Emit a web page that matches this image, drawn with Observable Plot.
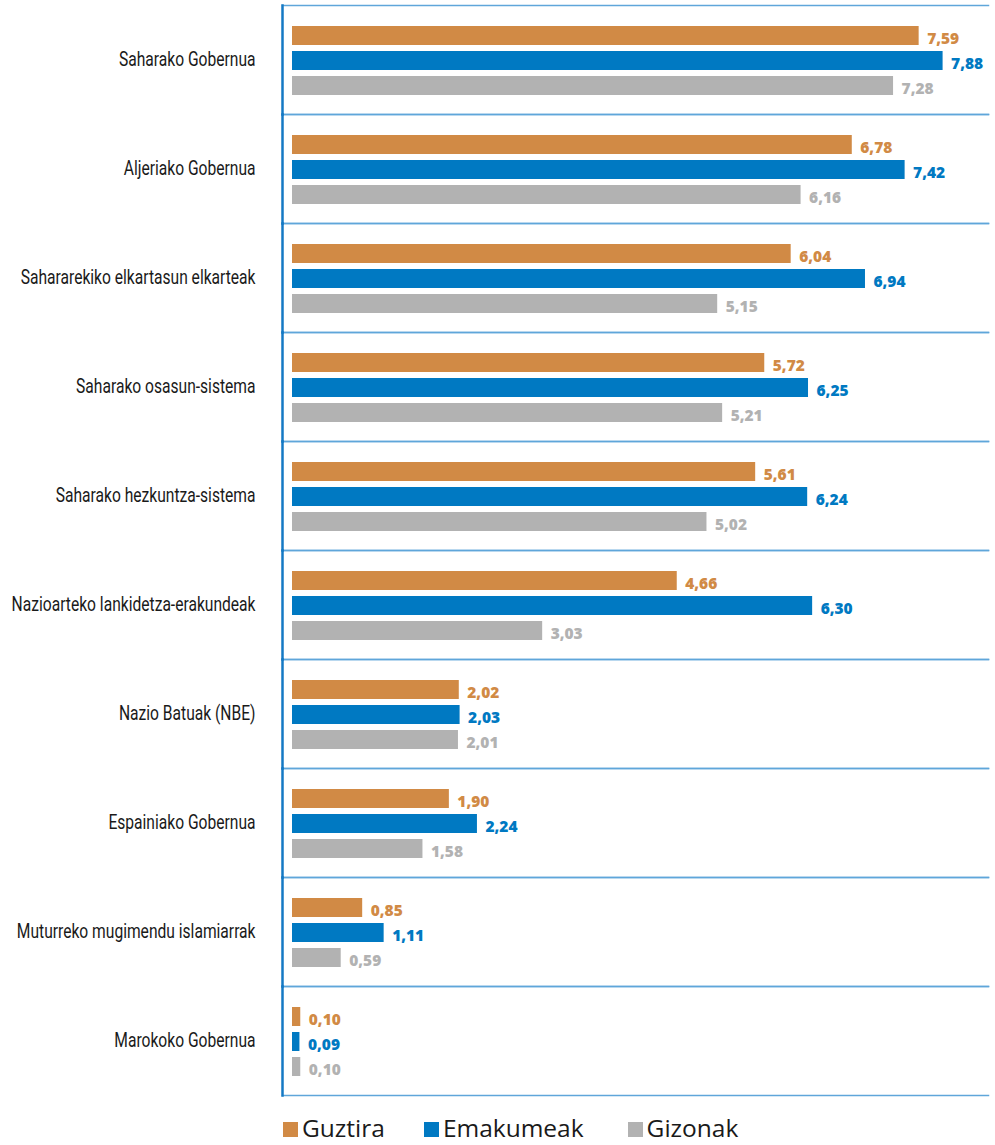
<!DOCTYPE html>
<html>
<head>
<meta charset="utf-8">
<script src="https://cdn.jsdelivr.net/npm/d3@7"></script>
<script src="https://cdn.jsdelivr.net/npm/@observablehq/plot@0.6"></script>
<style>
  html, body { margin: 0; padding: 0; background: #fff; }
  #chart svg { display: block; }
  .legend { display: flex; align-items: center; padding-left: 283px; margin-top: 11px;
            font-family: "Open Sans", "Lato", sans-serif; font-size: 24.5px; color: #1a1a1a; }
  .legend .item { display: flex; align-items: center; }
  .legend .sw { width: 15px; height: 15px; margin-right: 4px; margin-top: 4px; }
</style>
</head>
<body>
<div id="chart"></div>
<div class="legend" id="legend"></div>
<script>
const categories = [
  "Saharako Gobernua",
  "Aljeriako Gobernua",
  "Sahararekiko elkartasun elkarteak",
  "Saharako osasun-sistema",
  "Saharako hezkuntza-sistema",
  "Nazioarteko lankidetza-erakundeak",
  "Nazio Batuak (NBE)",
  "Espainiako Gobernua",
  "Muturreko mugimendu islamiarrak",
  "Marokoko Gobernua"
];
const series = ["Guztira", "Emakumeak", "Gizonak"];
const guztira   = [7.59, 6.78, 6.04, 5.72, 5.61, 4.66, 2.02, 1.90, 0.85, 0.10];
const emakumeak = [7.88, 7.42, 6.94, 6.25, 6.24, 6.30, 2.03, 2.24, 1.11, 0.09];
const gizonak   = [7.28, 6.16, 5.15, 5.21, 5.02, 3.03, 2.01, 1.58, 0.59, 0.10];
const colors = ["#D18A45", "#0079C2", "#B2B2B2"];

const valuesBySeries = [guztira, emakumeak, gizonak];
const data = [];
categories.forEach((c, i) => {
  series.forEach((s, j) => data.push({category: c, series: s, value: valuesBySeries[j][i]}));
});
const fmt = v => v.toFixed(2).replace(".", ",");

const chart = Plot.plot({
  width: 995,
  height: 1100,
  marginTop: 3,
  marginBottom: 3,
  marginLeft: 282,
  marginRight: 7,
  insetLeft: 10,
  x: {domain: [0, 8.43], axis: null},
  y: {domain: series, axis: null, paddingInner: 0.23, paddingOuter: 0.72, align: 0.53},
  fy: {domain: categories, padding: 0, axis: null},
  color: {domain: series, range: colors},
  marks: [
    Plot.frame({anchor: "top", stroke: "#5FA6DA", strokeWidth: 1.5}),
    Plot.frame({anchor: "bottom", stroke: "#5FA6DA", strokeWidth: 1.5}),
    Plot.barX(data, {x: "value", y: "series", fy: "category", fill: "series"}),
    Plot.text(data, {
      x: "value", y: "series", fy: "category", text: d => fmt(d.value),
      fill: "series", textAnchor: "start", dx: 8, dy: 3,
      fontSize: 15.5, fontWeight: 800, fontFamily: "'Open Sans', Lato, sans-serif"
    }),
    Plot.frame({anchor: "left", stroke: "#1479C4", strokeWidth: 2.5}),
    Plot.axisFy({
      anchor: "left", tickSize: 0, tickPadding: 27, label: null,
      fontSize: 20, fontFamily: "Roboto, sans-serif",
      fill: "#1a1a1a"
    })
  ]
});
document.getElementById("chart").appendChild(chart);

// condense the category labels horizontally (reference uses a condensed face)
const catSet = new Set(categories);
chart.querySelectorAll("text").forEach(t => {
  if (!catSet.has(t.textContent.trim())) return;
  const len = t.getComputedTextLength();
  t.setAttribute("textLength", (len * 0.78).toFixed(1));
  t.setAttribute("lengthAdjust", "spacingAndGlyphs");
});

const legend = document.getElementById("legend");
const gaps = [39, 44, 0];
series.forEach((s, i) => {
  const item = document.createElement("div");
  item.className = "item";
  item.style.marginRight = gaps[i] + "px";
  const sw = document.createElement("span");
  sw.className = "sw";
  sw.style.background = colors[i];
  const label = document.createElement("span");
  label.textContent = s;
  item.appendChild(sw);
  item.appendChild(label);
  legend.appendChild(item);
});
</script>
</body>
</html>
